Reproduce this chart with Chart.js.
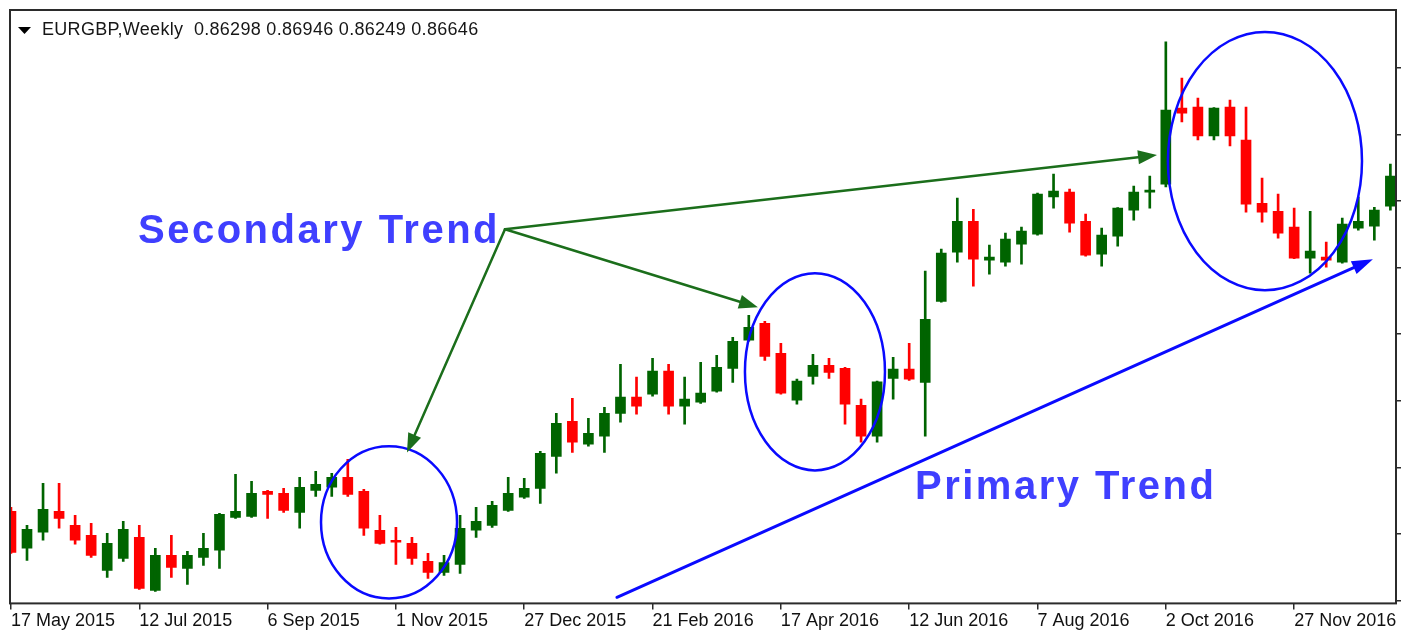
<!DOCTYPE html>
<html lang="en">
  <head>
    <meta charset="UTF-8" />
    <title>EURGBP, Weekly</title>
    <script src="https://cdn.jsdelivr.net/npm/chart.js"></script>
    <style>
      html, body { margin: 0; padding: 0; background: #fff; }
      canvas { display: block; }
    </style>
  </head>
  <body>
    <canvas id="myChart" width="1401" height="633"></canvas>

    <script>
      // Weekly candles, week 0 = 17 May 2015
      const opens = [
        0.7301, 0.7135, 0.7207, 0.7301, 0.7238, 0.7193, 0.7035, 0.7089, 0.7184, 0.6945,
        0.7103, 0.7044, 0.7094, 0.7126, 0.7274, 0.7279, 0.7392, 0.7383, 0.7297, 0.7396,
        0.7410, 0.7455, 0.7392, 0.7216, 0.7171, 0.7157, 0.7076, 0.7026, 0.7062, 0.7216,
        0.7238, 0.7306, 0.7365, 0.7405, 0.7549, 0.7707, 0.7604, 0.7640, 0.7743, 0.7816,
        0.7829, 0.7933, 0.7775, 0.7793, 0.7843, 0.7946, 0.8073, 0.8149, 0.8014, 0.7802,
        0.7910, 0.7960, 0.7946, 0.7779, 0.7640, 0.7901, 0.7942, 0.7883, 0.8248, 0.8469,
        0.8609, 0.8433, 0.8424, 0.8506, 0.8551, 0.8718, 0.8740, 0.8609, 0.8460, 0.8542,
        0.8659, 0.8740, 0.8776, 0.9119, 0.9123, 0.8993, 0.9123, 0.8975, 0.8690, 0.8654,
        0.8582, 0.8442, 0.8447, 0.8424, 0.8578, 0.8587, 0.8677,
      ];
      const highs = [
        0.7319, 0.7238, 0.7428, 0.7428, 0.7283, 0.7247, 0.7202, 0.7256, 0.7238, 0.7135,
        0.7193, 0.7121, 0.7202, 0.7292, 0.7468, 0.7437, 0.7396, 0.7405, 0.7455, 0.7482,
        0.7473, 0.7536, 0.7401, 0.7283, 0.7229, 0.7184, 0.7112, 0.7103, 0.7283, 0.7319,
        0.7346, 0.7455, 0.7450, 0.7572, 0.7743, 0.7811, 0.7721, 0.7770, 0.7964, 0.7906,
        0.7991, 0.7964, 0.7906, 0.7973, 0.8005, 0.8086, 0.8185, 0.8158, 0.8059, 0.7897,
        0.8009, 0.7991, 0.7951, 0.7807, 0.7888, 0.7996, 0.8059, 0.8384, 0.8483, 0.8713,
        0.8663, 0.8501, 0.8555, 0.8582, 0.8736, 0.8821, 0.8754, 0.8641, 0.8578, 0.8670,
        0.8767, 0.8812, 0.9417, 0.9254, 0.9164, 0.9121, 0.9155, 0.9123, 0.8803, 0.8731,
        0.8668, 0.8654, 0.8515, 0.8623, 0.8718, 0.8672, 0.8866,
      ];
      const lows = [
        0.7112, 0.7080, 0.7171, 0.7225, 0.7153, 0.7094, 0.7004, 0.7076, 0.6950, 0.6941,
        0.7004, 0.6972, 0.7058, 0.7044, 0.7270, 0.7274, 0.7270, 0.7297, 0.7225, 0.7369,
        0.7369, 0.7369, 0.7193, 0.7153, 0.7062, 0.7062, 0.6999, 0.7013, 0.7022, 0.7184,
        0.7229, 0.7301, 0.7360, 0.7337, 0.7473, 0.7567, 0.7595, 0.7567, 0.7703, 0.7739,
        0.7820, 0.7739, 0.7694, 0.7788, 0.7838, 0.7883, 0.8068, 0.7982, 0.7829, 0.7784,
        0.7874, 0.7901, 0.7694, 0.7613, 0.7613, 0.7807, 0.7892, 0.7640, 0.8244, 0.8424,
        0.8316, 0.8370, 0.8406, 0.8415, 0.8546, 0.8668, 0.8560, 0.8451, 0.8406, 0.8497,
        0.8614, 0.8668, 0.8763, 0.9056, 0.8975, 0.8975, 0.8948, 0.8650, 0.8605, 0.8533,
        0.8440, 0.8375, 0.8402, 0.8420, 0.8569, 0.8524, 0.8659,
      ];
      const closes = [
        0.7116, 0.7220, 0.7310, 0.7270, 0.7171, 0.7103, 0.7157, 0.7220, 0.6954, 0.7103,
        0.7049, 0.7103, 0.7135, 0.7288, 0.7301, 0.7383, 0.7378, 0.7306, 0.7410, 0.7423,
        0.7455, 0.7378, 0.7225, 0.7157, 0.7162, 0.7089, 0.7026, 0.7071, 0.7225, 0.7256,
        0.7328, 0.7383, 0.7405, 0.7563, 0.7698, 0.7613, 0.7653, 0.7743, 0.7816, 0.7775,
        0.7933, 0.7775, 0.7807, 0.7834, 0.7951, 0.8068, 0.8131, 0.8000, 0.7834, 0.7888,
        0.7960, 0.7928, 0.7784, 0.7640, 0.7885, 0.7942, 0.7897, 0.8167, 0.8465, 0.8609,
        0.8438, 0.8447, 0.8528, 0.8564, 0.8731, 0.8745, 0.8600, 0.8456, 0.8546, 0.8668,
        0.8740, 0.8749, 0.9110, 0.9096, 0.8993, 0.9119, 0.8993, 0.8686, 0.8650, 0.8555,
        0.8442, 0.8474, 0.8433, 0.8596, 0.8609, 0.8659, 0.8812,
      ];

      // date axis: one label every 8 weeks
      const tickWeeks = [0, 8, 16, 24, 32, 40, 48, 56, 64, 72, 80];
      const dateLabels = [
        "17 May 2015", "12 Jul 2015", "6 Sep 2015", "1 Nov 2015", "27 Dec 2015",
        "21 Feb 2016", "17 Apr 2016", "12 Jun 2016", "7 Aug 2016", "2 Oct 2016", "27 Nov 2016",
      ];
      const priceTicks = [0.69, 0.72, 0.75, 0.78, 0.81, 0.84, 0.87, 0.9, 0.93];

      const header = "EURGBP,Weekly  0.86298 0.86946 0.86249 0.86646";

      // markup drawn over the candles (week index / price)
      const circles = [
        { from: 19.33, to: 27.81, top: 0.7595, bottom: 0.6909 },
        { from: 45.76, to: 54.49, top: 0.8375, bottom: 0.7486 },
        { from: 72.13, to: 84.23, top: 0.9462, bottom: 0.8298 },
      ];
      const secondaryFrom = [30.8, 0.8573];
      const secondaryTo = [[24.69, 0.7567], [46.57, 0.8221], [71.45, 0.8907]];
      const primaryLine = [[37.78, 0.6914], [84.91, 0.8438]];
      const captions = [
        { text: "Secondary Trend", at: [7.92, 0.8512] },
        { text: "Primary Trend", at: [56.36, 0.7358] },
      ];

      const bull = "#006400";
      const bear = "#ff0000";
      const colors = opens.map((o, i) => (closes[i] >= o ? bull : bear));
      const wicks = highs.map((h, i) => ({ x: i, y: [lows[i], h] }));
      const bodies = opens.map((o, i) => ({ x: i, y: [o, closes[i]] }));

      function arrow(ctx, x0, y0, x1, y1, color, width, len, half) {
        const a = Math.atan2(y1 - y0, x1 - x0);
        const bx = x1 - Math.cos(a) * len;
        const by = y1 - Math.sin(a) * len;
        ctx.strokeStyle = color;
        ctx.fillStyle = color;
        ctx.lineWidth = width;
        ctx.beginPath();
        ctx.moveTo(x0, y0);
        ctx.lineTo(bx, by);
        ctx.stroke();
        ctx.beginPath();
        ctx.moveTo(x1, y1);
        ctx.lineTo(bx + Math.sin(a) * half, by - Math.cos(a) * half);
        ctx.lineTo(bx - Math.sin(a) * half, by + Math.cos(a) * half);
        ctx.closePath();
        ctx.fill();
      }

      const frame = {
        id: "frame",
        afterDraw(chart) {
          const { ctx, chartArea: a } = chart;
          ctx.save();
          ctx.strokeStyle = "#2b2b2b";
          ctx.lineWidth = 2;
          ctx.strokeRect(a.left, a.top, a.right - a.left, a.bottom - a.top);

          // symbol line in the top-left corner
          ctx.fillStyle = "#000";
          ctx.beginPath();
          ctx.moveTo(a.left + 8, a.top + 17);
          ctx.lineTo(a.left + 21, a.top + 17);
          ctx.lineTo(a.left + 14.5, a.top + 24);
          ctx.closePath();
          ctx.fill();
          ctx.fillStyle = "#161616";
          ctx.font = "18px 'Liberation Sans'";
          ctx.letterSpacing = "0.3px";
          ctx.textBaseline = "alphabetic";
          ctx.fillText(header, a.left + 32, a.top + 25);
          ctx.restore();
        },
      };

      const trendMarks = {
        id: "trendMarks",
        afterDatasetsDraw(chart) {
          const { ctx, scales: { x, y } } = chart;
          const px = (v) => x.getPixelForValue(v);
          const py = (v) => y.getPixelForValue(v);
          ctx.save();
          ctx.lineCap = "round";

          ctx.strokeStyle = "#0a0aff";
          ctx.lineWidth = 2.5;
          circles.forEach((c) => {
            const cx = (px(c.from) + px(c.to)) / 2;
            const cy = (py(c.top) + py(c.bottom)) / 2;
            ctx.beginPath();
            ctx.ellipse(cx, cy, (px(c.to) - px(c.from)) / 2, (py(c.bottom) - py(c.top)) / 2, 0, 0, Math.PI * 2);
            ctx.stroke();
          });

          secondaryTo.forEach((t) => {
            arrow(ctx, px(secondaryFrom[0]), py(secondaryFrom[1]), px(t[0]), py(t[1]), "#1b6e1b", 2.5, 19, 7);
          });

          const [p0, p1] = primaryLine;
          arrow(ctx, px(p0[0]), py(p0[1]), px(p1[0]), py(p1[1]), "#0a0aff", 3, 21, 7);

          ctx.fillStyle = "#3f3fff";
          ctx.font = "bold 40px 'Liberation Sans'";
          ctx.letterSpacing = "2.5px";
          ctx.textBaseline = "alphabetic";
          captions.forEach((c) => ctx.fillText(c.text, px(c.at[0]), py(c.at[1])));
          ctx.restore();
        },
      };

      const ctx = document.getElementById("myChart").getContext("2d");
      new Chart(ctx, {
        type: "bar",
        data: {
          datasets: [
            {
              label: "High-Low",
              data: wicks,
              backgroundColor: colors,
              barThickness: 2,
              grouped: false,
            },
            {
              label: "Open-Close",
              data: bodies,
              backgroundColor: colors,
              barThickness: 10,
              minBarLength: 2,
              grouped: false,
            },
          ],
        },
        options: {
          responsive: false,
          animation: false,
          layout: { padding: { left: 10, top: 10, right: 0, bottom: 0 } },
          plugins: {
            legend: { display: false },
            tooltip: { enabled: false },
          },
          scales: {
            x: {
              type: "linear",
              min: -0.06,
              max: 86.35,
              offset: false,
              afterBuildTicks: (scale) => {
                scale.ticks = tickWeeks.map((v) => ({ value: v }));
              },
              grid: {
                offset: false,
                drawOnChartArea: false,
                tickLength: 6,
                color: "#2b2b2b",
                lineWidth: 1.5,
              },
              border: { display: false },
              ticks: {
                align: "start",
                padding: 1,
                maxRotation: 0,
                autoSkip: false,
                color: "#111",
                font: { family: "'Liberation Sans'", size: 18 },
                callback: (value, index) => dateLabels[index],
              },
            },
            y: {
              position: "right",
              min: 0.68865,
              max: 0.95609,
              afterBuildTicks: (scale) => {
                scale.ticks = priceTicks.map((v) => ({ value: v }));
              },
              grid: {
                drawOnChartArea: false,
                tickLength: 5,
                color: "#2b2b2b",
                lineWidth: 1.5,
              },
              border: { display: false },
              ticks: { display: false },
            },
          },
        },
        plugins: [trendMarks, frame],
      });
    </script>
  </body>
</html>
